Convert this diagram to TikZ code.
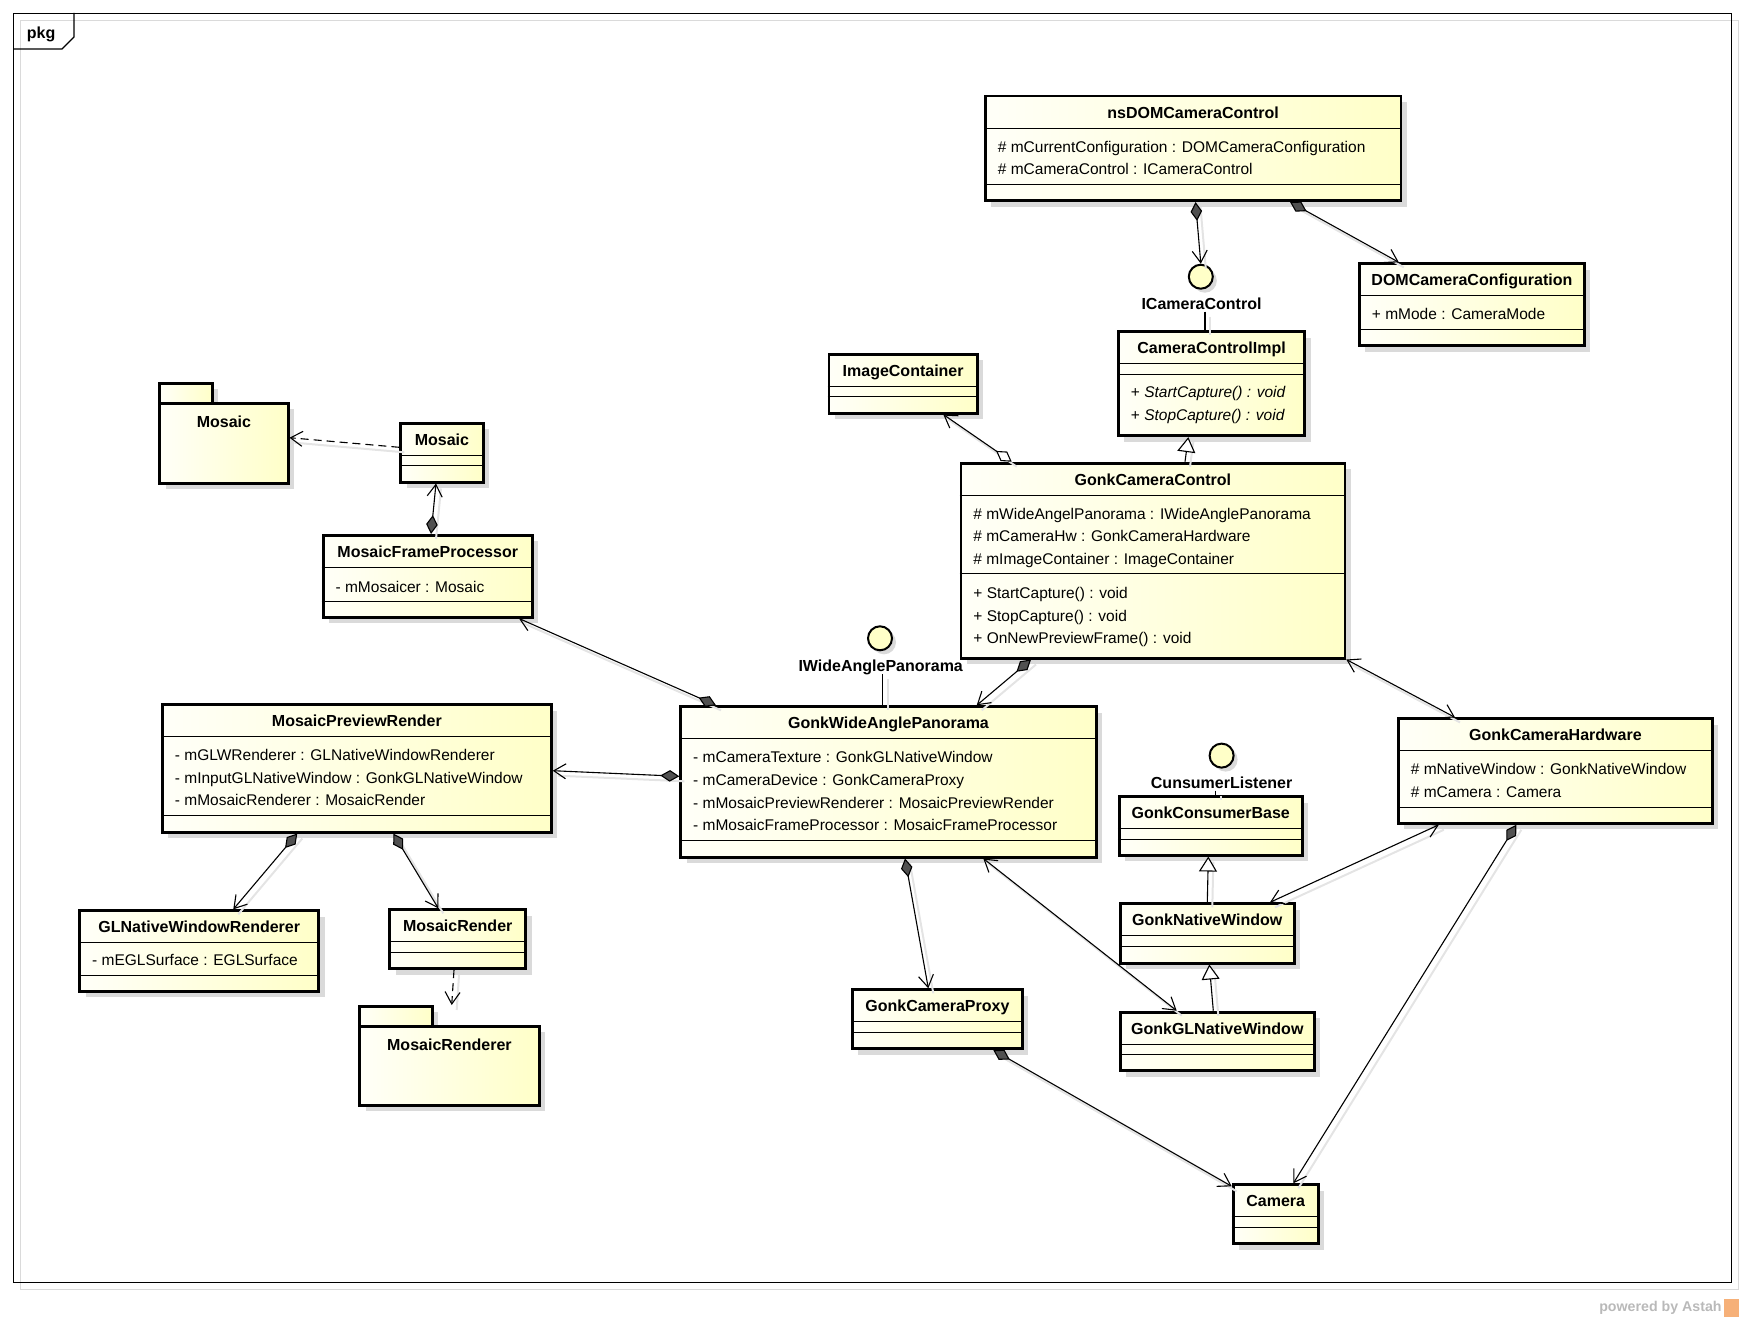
\documentclass[tikz,border=0pt]{standalone}
\usepackage{fontspec}
\setmainfont{Liberation Sans}
\usepackage{tikz}
\usetikzlibrary{arrows.meta,shadows}
\newcommand\pxUnit{0.5pt}
\newcommand\lineColor{black}
\newcommand\boxLineWidth{1.4pt}
\newcommand\linkLineWidth{0.55pt}
\newcommand\sepLineWidth{0.5pt}
\newcommand\titleShift{17.6}
\newcommand\titleSep{33.5}
\newcommand\emptySep{44}
\newcommand\memberStep{22.6}
\newcommand\memberIndent{13.5}
\definecolor{boxYellow}{RGB}{255,255,200}
\definecolor{boxWhite}{RGB}{255,255,248}
\definecolor{shadowGray}{RGB}{218,218,218}
\definecolor{linkShadow}{RGB}{228,228,228}
\definecolor{diamondGray}{RGB}{80,80,80}
\definecolor{poweredGray}{RGB}{185,185,185}
\definecolor{astahOrange}{RGB}{246,176,120}

\tikzset{
  classbox/.style={draw=\lineColor, line width=\boxLineWidth, left color=boxWhite, right color=boxYellow,
    rectangle, anchor=north west, inner sep=0pt,
    drop shadow={shadow xshift=3pt, shadow yshift=-3pt, fill=shadowGray, opacity=1}},
  compsep/.style={draw=\lineColor, line width=\sepLineWidth},
  classname/.style={font=\bfseries\fontsize{8}{9.6}\selectfont, inner sep=0pt, text height=5.8pt, text depth=0pt},
  member/.style={font=\fontsize{7.75}{9.3}\selectfont, inner sep=0pt, text height=5.6pt, text depth=0pt, anchor=west},
  lollipop/.style={draw=\lineColor, line width=1pt, circle, fill=boxYellow, minimum size=24*\pxUnit, inner sep=0pt,
    drop shadow={shadow xshift=2pt, shadow yshift=-2pt, fill=shadowGray, opacity=1}},
  ifacename/.style={font=\bfseries\fontsize{8}{9.6}\selectfont, inner sep=1pt, text height=5.8pt, text depth=0pt},
  link/.style={draw=\lineColor, line width=\linkLineWidth,
    preaction={draw=linkShadow, -, line width=1pt, transform canvas={shift={(2.5pt,-2.5pt)}}}},
  composition/.style={link, {Diamond[length=9.5pt,width=5.8pt,fill=diamondGray]}-{Straight Barb[length=6pt,width=7.5pt]}},
  aggregation/.style={link, {Diamond[length=9.5pt,width=5.8pt,fill=white]}-{Straight Barb[length=6pt,width=7.5pt]}},
  navigable/.style={link, {Straight Barb[length=6pt,width=7.5pt]}-{Straight Barb[length=6pt,width=7.5pt]}},
  generalization/.style={link, -{Triangle[length=7.5pt,width=9pt,fill=white]}},
  dependency/.style={link, dash pattern=on 4pt off 2.5pt, -{Straight Barb[length=6pt,width=7.5pt]}},
}

\newcommand\classSep[2]{\draw[compsep] ([yshift=-#2*\pxUnit]#1.north west) -- ([yshift=-#2*\pxUnit]#1.north east);}
\newcommand\classBox[6]{%
  \node[classbox, minimum width=#5*\pxUnit, minimum height=#6*\pxUnit] (#1) at (#3,#4) {};
  \node[classname] (#1_title) at ([yshift=-\titleShift*\pxUnit]#1.north) {#2};
  \classSep{#1}{\titleSep}}
\newcommand\classMembers[4]{%
  \foreach \memberText [count=\i from 0] in {#4}
    \node[member] (#1_#2\i) at ([xshift=\memberIndent*\pxUnit, yshift={-(#3+\memberStep*\i)*\pxUnit}]#1.north west) {\memberText};}

\begin{document}
\begin{tikzpicture}[x=\pxUnit, y=-\pxUnit]
    \useasboundingbox (0,0) rectangle (1744,1321);

    % frame
    \node[draw=shadowGray, line width=0.6pt, minimum width=1718*\pxUnit, minimum height=1269*\pxUnit, anchor=north west, inner sep=0pt] (pkgFrame_shadow) at (20,20) {};
    \node[draw=\lineColor, line width=0.6pt, minimum width=1718*\pxUnit, minimum height=1269*\pxUnit, anchor=north west, inner sep=0pt] (pkgFrame) at (13,13) {};
    \draw[draw=\lineColor, line width=0.6pt] (pkgFrame.north west) ++(0,36) -- ++(49,0) -- ++(12,-12) -- ++(0,-24);
    \node[classname, anchor=west] (pkgFrame_title) at (26.5,33) {pkg};

    % top classes
    \classBox{nsDOMCameraControl}{nsDOMCameraControl}{984}{94.7}{415.5}{104.5}
    \classSep{nsDOMCameraControl}{89.6}
    \classMembers{nsDOMCameraControl}{attr}{52}{\# mCurrentConfiguration : DOMCameraConfiguration, \# mCameraControl : ICameraControl}

    \classBox{DOMCameraConfiguration}{DOMCameraConfiguration}{1358}{262.3}{225}{82}
    \classSep{DOMCameraConfiguration}{67}
    \classMembers{DOMCameraConfiguration}{attr}{52}{+ mMode : CameraMode}

    \classBox{CameraControlImpl}{CameraControlImpl}{1117}{330.3}{186.3}{104}
    \classSep{CameraControlImpl}{\emptySep}
    \classMembers{CameraControlImpl}{op}{62}{+ \textit{StartCapture() : void}, + \textit{StopCapture() : void}}

    \classBox{ImageContainer}{ImageContainer}{827.5}{352.7}{148.5}{59}
    \classSep{ImageContainer}{\emptySep}

    \classBox{GonkCameraControl}{GonkCameraControl}{959.5}{461.7}{384}{195}
    \classSep{GonkCameraControl}{112.2}
    \classMembers{GonkCameraControl}{attr}{52}{\# mWideAngelPanorama : IWideAnglePanorama, \# mCameraHw : GonkCameraHardware, \# mImageContainer : ImageContainer}
    \classMembers{GonkCameraControl}{op}{131.2}{+ StartCapture() : void, + StopCapture() : void, + OnNewPreviewFrame() : void}

    % mosaic side
    \node[classbox, minimum width=52.7*\pxUnit, minimum height=20.3*\pxUnit] (MosaicPkg_tab) at (158.3,381.7) {};
    \node[classbox, minimum width=128.4*\pxUnit, minimum height=79.7*\pxUnit] (MosaicPkg) at (158.3,402) {};
    \node[classname] (MosaicPkg_title) at ([yshift=-19.7*\pxUnit]MosaicPkg.north) {Mosaic};

    \classBox{MosaicClass}{Mosaic}{399.3}{421.7}{82.4}{59}
    \classSep{MosaicClass}{\emptySep}

    \classBox{MosaicFrameProcessor}{MosaicFrameProcessor}{321.7}{534}{209.3}{81.7}
    \classSep{MosaicFrameProcessor}{67}
    \classMembers{MosaicFrameProcessor}{attr}{52.5}{- mMosaicer : Mosaic}

    \classBox{MosaicPreviewRender}{MosaicPreviewRender}{161}{703.3}{389}{127.4}
    \classSep{MosaicPreviewRender}{112.4}
    \classMembers{MosaicPreviewRender}{attr}{51.5}{- mGLWRenderer : GLNativeWindowRenderer, - mInputGLNativeWindow : GonkGLNativeWindow, - mMosaicRenderer : MosaicRender}

    \classBox{GLNativeWindowRenderer}{GLNativeWindowRenderer}{78.3}{909.3}{239}{80.7}
    \classSep{GLNativeWindowRenderer}{66}
    \classMembers{GLNativeWindowRenderer}{attr}{51}{- mEGLSurface : EGLSurface}

    \classBox{MosaicRender}{MosaicRender}{388.3}{908.3}{136}{59}
    \classSep{MosaicRender}{\emptySep}

    \node[classbox, minimum width=72.7*\pxUnit, minimum height=20*\pxUnit] (MosaicRendererPkg_tab) at (358.3,1005) {};
    \node[classbox, minimum width=179.4*\pxUnit, minimum height=79*\pxUnit] (MosaicRendererPkg) at (358.3,1025) {};
    \node[classname] (MosaicRendererPkg_title) at ([yshift=-20*\pxUnit]MosaicRendererPkg.north) {MosaicRenderer};

    % gonk side
    \classBox{GonkWideAnglePanorama}{GonkWideAnglePanorama}{679.3}{705.3}{415.5}{150.4}
    \classSep{GonkWideAnglePanorama}{134.8}
    \classMembers{GonkWideAnglePanorama}{attr}{52}{- mCameraTexture : GonkGLNativeWindow, - mCameraDevice : GonkCameraProxy, - mMosaicPreviewRenderer : MosaicPreviewRender, - mMosaicFrameProcessor : MosaicFrameProcessor}

    \classBox{GonkCameraProxy}{GonkCameraProxy}{851}{988.3}{170}{59}
    \classSep{GonkCameraProxy}{\emptySep}

    \classBox{GonkConsumerBase}{GonkConsumerBase}{1117.8}{795.2}{183}{58.5}
    \classSep{GonkConsumerBase}{\emptySep}

    \classBox{GonkNativeWindow}{GonkNativeWindow}{1119}{902.3}{173.7}{59.4}
    \classSep{GonkNativeWindow}{\emptySep}

    \classBox{GonkGLNativeWindow}{GonkGLNativeWindow}{1119}{1010.7}{193.7}{58.6}
    \classSep{GonkGLNativeWindow}{\emptySep}

    \classBox{GonkCameraHardware}{GonkCameraHardware}{1397}{717.4}{314}{104.6}
    \classSep{GonkCameraHardware}{89.6}
    \classMembers{GonkCameraHardware}{attr}{51.5}{\# mNativeWindow : GonkNativeWindow, \# mCamera : Camera}

    \classBox{Camera}{Camera}{1231.7}{1183.3}{85.3}{59}
    \classSep{Camera}{\emptySep}

    % interfaces
    \node[lollipop] (ICameraControl) at (1200.8,276.7) {};
    \node[ifacename] (ICameraControl_label) at (1201.5,303.3) {ICameraControl};
    \node[lollipop] (IWideAnglePanorama) at (880,638.3) {};
    \node[ifacename] (IWideAnglePanorama_label) at (880.7,665.7) {IWideAnglePanorama};
    \node[lollipop] (CunsumerListener) at (1221.6,755.6) {};
    \node[ifacename] (CunsumerListener_label) at (1221.6,782.4) {CunsumerListener};

%Part Two
    \draw[link] ([xshift=3.5*\pxUnit]ICameraControl_label.south) -- ([xshift=3.5*\pxUnit]ICameraControl_label.south |- CameraControlImpl.north);
    \draw[link] ([xshift=2*\pxUnit]IWideAnglePanorama_label.south) -- ([xshift=2*\pxUnit]IWideAnglePanorama_label.south |- GonkWideAnglePanorama.north);
    \draw[link] ([xshift=-6*\pxUnit]CunsumerListener_label.south) -- ([xshift=-6*\pxUnit]CunsumerListener_label.south |- GonkConsumerBase.north);

    \draw[composition] ([xshift=211.5*\pxUnit]nsDOMCameraControl.south west) -- (ICameraControl.north);
    \draw[composition] ([xshift=306*\pxUnit]nsDOMCameraControl.south west) -- ([xshift=40.8*\pxUnit]DOMCameraConfiguration.north west);
    \draw[generalization] ([xshift=225.5*\pxUnit]GonkCameraControl.north west) -- ([xshift=71.3*\pxUnit]CameraControlImpl.south west);
    \draw[aggregation] ([xshift=52.2*\pxUnit]GonkCameraControl.north west) -- ([xshift=115.8*\pxUnit]ImageContainer.south west);

%Part Three
    \draw[dependency] ([yshift=-25.6*\pxUnit]MosaicClass.north west) -- ([yshift=-35.7*\pxUnit]MosaicPkg.north east);
    \draw[composition] ([xshift=109.3*\pxUnit]MosaicFrameProcessor.north west) -- ([xshift=36.7*\pxUnit]MosaicClass.south west);
    \draw[composition] ([xshift=36.7*\pxUnit]GonkWideAnglePanorama.north west) -- ([xshift=197.3*\pxUnit]MosaicFrameProcessor.south west);
    \draw[composition] ([yshift=-71*\pxUnit]GonkWideAnglePanorama.north west) -- ([yshift=-67.4*\pxUnit]MosaicPreviewRender.north east);
    \draw[composition] ([xshift=136.3*\pxUnit]MosaicPreviewRender.south west) -- ([xshift=155*\pxUnit]GLNativeWindowRenderer.north west);
    \draw[composition] ([xshift=232.3*\pxUnit]MosaicPreviewRender.south west) -- ([xshift=50*\pxUnit]MosaicRender.north west);
    \draw[dependency] ([xshift=65.7*\pxUnit]MosaicRender.south west) -- ([xshift=93.4*\pxUnit]MosaicRendererPkg_tab.north west);

%Part Four
    \draw[composition] ([xshift=71.5*\pxUnit]GonkCameraControl.south west) -- ([xshift=297.4*\pxUnit]GonkWideAnglePanorama.north west);
    \draw[navigable] (GonkCameraControl.south east) -- ([xshift=58*\pxUnit]GonkCameraHardware.north west);
    \draw[composition] ([xshift=225.7*\pxUnit]GonkWideAnglePanorama.south west) -- ([xshift=77.3*\pxUnit]GonkCameraProxy.north west);
    \draw[navigable] ([xshift=304*\pxUnit]GonkWideAnglePanorama.south west) -- ([xshift=57.7*\pxUnit]GonkGLNativeWindow.north west);
    \draw[generalization] ([xshift=88.3*\pxUnit]GonkNativeWindow.north west) -- ([xshift=90.5*\pxUnit]GonkConsumerBase.south west);
    \draw[generalization] ([xshift=94.3*\pxUnit]GonkGLNativeWindow.north west) -- ([xshift=90.3*\pxUnit]GonkNativeWindow.south west);
    \draw[navigable] ([xshift=151*\pxUnit]GonkNativeWindow.north west) -- ([xshift=41.8*\pxUnit]GonkCameraHardware.south west);
    \draw[composition] ([xshift=119.3*\pxUnit]GonkCameraHardware.south west) -- ([xshift=61.6*\pxUnit]Camera.north west);
    \draw[composition] ([xshift=142.3*\pxUnit]GonkCameraProxy.south west) -- ([yshift=-3*\pxUnit]Camera.north west);

%    end graph
    \node[font=\bfseries\fontsize{7.1}{8.5}\selectfont, text=poweredGray, anchor=east, inner sep=0pt] (poweredBy) at (1722,1308) {powered by Astah};
    \node[fill=astahOrange, minimum width=15*\pxUnit, minimum height=18*\pxUnit, anchor=west, inner sep=0pt] (astahLogo) at ([xshift=2*\pxUnit]poweredBy.east) {};

\end{tikzpicture}
\end{document}
